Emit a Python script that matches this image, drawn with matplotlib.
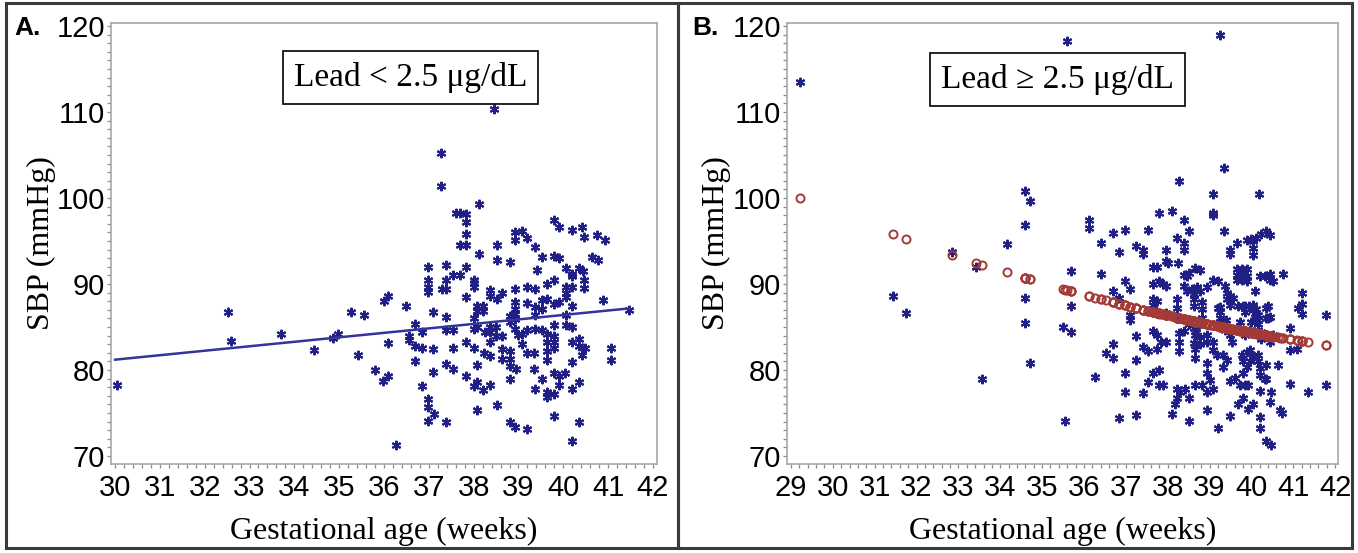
import matplotlib
matplotlib.use("Agg")
import matplotlib.pyplot as plt
import numpy as np
from matplotlib.patches import Rectangle
from matplotlib.ticker import MultipleLocator

# ---- Panel A: lead < 2.5 ug/dL (gestational age, SBP) ----
a_ga = [30.04, 32.53, 32.59, 33.70, 34.43, 34.86, 34.98, 35.27, 35.43, 35.55,
        35.80, 35.98, 36.00, 36.10, 36.10, 36.10, 36.27, 36.50, 36.55, 36.55,
        36.70, 36.70, 36.70, 36.84, 36.84, 36.84, 36.98, 36.98, 36.98, 36.98,
        36.98, 36.98, 36.98, 37.10, 37.10, 37.10, 37.12, 37.27, 37.27, 37.30,
        37.39, 37.39, 37.39, 37.39, 37.39, 37.39, 37.39, 37.55, 37.55, 37.55,
        37.55, 37.60, 37.70, 37.70, 37.70, 37.84, 37.84, 37.84, 37.84, 37.84,
        37.84, 37.84, 37.84, 38.00, 38.00, 38.00, 38.00, 38.00, 38.00, 38.00,
        38.45,
        38.11, 38.11, 38.07, 38.07, 38.07, 38.07, 38.07, 38.07, 38.20, 38.20,
        38.22, 38.20, 38.25, 38.36, 38.36, 38.36, 38.36, 38.36, 38.36, 38.36,
        38.50, 38.50, 38.52, 38.52, 38.52, 38.52, 38.64, 38.64, 38.64, 38.64,
        38.80, 38.80, 38.80, 38.80, 38.80, 38.80, 38.80, 38.80, 38.93, 38.93,
        38.93, 38.93, 38.93, 38.93, 38.93, 38.93, 38.93, 38.95, 39.00, 39.08,
        39.08, 39.08, 39.20, 39.20, 39.20, 39.20, 39.20, 39.20, 39.35, 39.35,
        39.36, 39.36, 39.36, 39.36, 39.36, 39.37, 39.42, 39.52, 39.52, 39.52,
        39.52, 39.52, 39.64, 39.64, 39.64, 39.64, 39.64, 39.64, 39.64, 39.64,
        39.79, 39.79, 39.79, 39.79, 39.79, 39.79, 39.79, 39.79, 39.79, 39.79,
        39.79, 39.91, 39.91, 39.91, 39.91, 39.91, 40.04, 40.07, 40.07, 40.07,
        40.07, 40.07, 40.07, 40.19, 40.19, 40.19, 40.19, 40.19, 40.19, 40.19,
        40.19, 40.19, 40.19, 40.36, 40.36, 40.36, 40.36, 40.36, 40.41, 40.41,
        40.45, 40.47, 40.47, 40.47, 40.48, 40.65, 40.76, 40.78, 40.88, 40.92,
        41.07, 41.07, 41.47]
a_sbp = [78.3, 86.8, 83.4, 84.2, 82.3, 83.7, 84.2, 86.8, 81.7, 86.4,
         80.0, 78.7, 88.0, 88.6, 83.1, 79.3, 71.3, 87.4, 83.9, 83.5,
         85.4, 82.8, 81.1, 84.4, 82.6, 78.1, 92.0, 90.5, 89.6, 89.1,
         76.6, 75.7, 74.1, 86.8, 82.4, 79.8, 74.9, 105.2, 101.4, 89.4,
         92.2, 90.5, 89.4, 86.2, 84.6, 80.7, 73.9, 91.0, 84.6, 82.6,
         80.1, 98.2, 98.2, 91.0, 94.5, 98.1, 97.2, 95.8, 94.5, 92.0,
         88.5, 83.3, 79.3, 90.5, 90.1, 89.7, 86.1, 84.8, 82.6, 78.1,
         110.3,
         99.3, 93.5, 87.5, 86.9, 85.0, 80.6, 78.6, 75.4, 87.5, 86.9,
         82.0, 77.7, 84.4, 89.3, 88.6, 85.0, 84.4, 83.2, 81.6, 78.3,
         85.0, 84.0, 94.5, 92.8, 88.2, 75.9, 89.0, 84.0, 82.4, 81.3,
         92.6, 86.3, 85.6, 82.2, 81.3, 80.5, 78.9, 74.0, 96.0, 95.1,
         89.4, 87.9, 87.1, 86.5, 85.9, 84.8, 73.4, 80.1, 84.1, 96.2,
         84.2, 83.0, 95.3, 89.7, 87.8, 84.6, 82.0, 73.1, 82.0, 80.1,
         94.3, 89.4, 87.3, 86.4, 84.8, 77.8, 91.6, 93.1, 88.1, 87.1,
         84.6, 79.0, 90.0, 88.3, 84.2, 83.2, 82.2, 81.2, 77.5, 76.9,
         97.5, 93.3, 90.5, 87.7, 85.2, 84.0, 83.2, 82.6, 79.6, 77.2,
         74.6, 96.6, 93.0, 87.9, 79.3, 78.3, 79.7, 91.9, 89.7, 88.9,
         88.5, 86.4, 85.2, 96.3, 91.2, 90.9, 89.7, 87.5, 85.0, 83.2,
         80.9, 77.8, 71.8, 91.9, 83.6, 82.8, 78.6, 74.0, 96.6, 81.8,
         91.5, 95.5, 90.5, 89.5, 82.6, 93.1, 95.7, 92.8, 88.1, 95.1,
         82.6, 81.2, 87.0]
# linear fit for panel A: intercept, slope
a_fit = [65.6, 0.52]

# ---- Panel B: lead >= 2.5 ug/dL ----
b_ga = [29.22, 31.44, 31.74, 32.85, 33.43, 33.57,
        34.16, 34.58, 34.70, 34.58, 34.58, 34.58, 34.70, 35.49, 35.55, 35.60,
        35.69, 35.69, 35.69, 36.12, 36.12, 36.26, 36.40, 36.40, 36.52, 36.70,
        36.70, 36.70, 36.70, 36.84, 36.84, 36.84, 36.97, 36.97, 36.97, 36.97,
        37.10, 37.10, 37.10, 37.24, 37.24, 37.24, 37.24, 37.40, 37.40, 37.42,
        37.42, 37.54, 37.54, 37.54, 37.66, 37.75, 37.66, 37.79, 37.90, 37.66,
        37.75, 37.66, 37.66, 37.75, 37.83, 37.75, 37.66, 37.79, 37.79, 37.90,
        37.80, 37.95, 37.95, 37.95, 37.95, 37.95, 38.00, 38.11, 38.11,
        38.26, 39.35, 39.26, 39.09, 39.09, 39.09, 40.19, 38.38, 38.50, 39.35,
        38.22, 38.38, 38.38, 40.36, 40.44, 40.22, 40.11, 39.98, 39.90, 39.65,
        39.49, 39.49, 40.04, 40.04, 40.04, 38.24, 38.38, 38.46, 38.50, 38.66,
        38.77, 39.09, 39.21, 39.65, 39.77, 39.89, 39.65, 39.77, 39.89, 39.65,
        39.77, 39.89, 40.20, 40.32, 40.44, 40.44, 40.52, 40.76, 40.08, 39.37,
        38.38, 38.46, 38.58, 38.70, 38.62, 38.77, 38.93, 38.22, 38.22, 38.62,
        38.62, 39.21, 39.41, 39.49, 39.49, 39.41, 39.57, 39.69, 39.81, 40.04,
        40.04, 40.16, 40.36, 40.44, 41.20, 41.20, 41.20, 41.12, 41.78, 40.92,
        40.92, 41.08, 41.78, 41.35, 40.92, 40.64, 38.26, 38.26, 38.38, 38.26,
        38.26, 38.50, 38.62, 38.66, 38.74, 38.62, 38.66, 38.77, 38.66, 38.93,
        38.93, 39.09, 39.09, 39.29, 39.37, 39.49, 39.53, 39.73, 39.85, 39.97,
        40.08, 40.16, 40.16, 39.17, 39.33, 39.41, 39.33, 38.93, 38.93, 39.01,
        39.77, 39.89, 39.97, 39.81, 39.89, 39.97, 39.81, 40.04, 40.16, 40.16,
        40.20, 39.49, 39.61, 39.73, 39.85, 39.93, 40.20, 40.32, 40.48, 40.44,
        40.20, 39.81, 39.69, 40.04, 39.93, 39.49, 40.20, 40.20, 40.68, 40.74,
        40.36, 40.46, 39.21, 38.93, 38.50, 38.22, 38.30, 38.42, 38.50, 38.22,
        38.18, 38.66, 38.81, 38.93, 39.09, 40.36, 40.52, 40.44, 40.36, 40.36,
        39.85, 39.95, 39.85, 39.72, 39.25, 39.25, 39.25, 39.39, 38.82, 38.82,
        38.82, 38.68, 38.77, 40.10, 40.10, 40.00, 40.24, 40.24, 40.40, 40.40]
b_sbp = [113.5, 88.65, 86.65, 93.7, 92.0, 79.0,
         94.7, 100.8, 99.6, 96.9, 88.4, 85.5, 80.8, 85.0, 74.1, 118.2,
         91.5, 87.5, 84.4, 97.4, 96.5, 79.2, 94.8, 91.2, 82.0, 95.9,
         89.2, 83.0, 81.4, 93.7, 88.4, 74.4, 96.3, 90.4, 79.6, 77.4,
         89.4, 86.4, 85.8, 94.4, 83.9, 81.2, 74.8, 94.0, 93.5, 82.7,
         77.3, 96.3, 82.2, 78.6, 92.0, 92.0, 90.0, 90.3, 90.0, 88.2,
         88.0, 87.6, 84.5, 84.1, 83.3, 82.5, 79.7, 80.0, 78.2, 78.2,
         98.3, 93.9, 92.7, 89.8, 86.6, 83.3, 92.5, 98.5, 74.9,
         102.0, 103.5, 119.0, 100.5, 98.3, 98.0, 100.5, 97.4, 96.2, 96.2,
         95.4, 94.8, 94.0, 96.2, 95.7, 95.8, 95.4, 95.2, 95.1, 94.8,
         94.0, 93.5, 95.0, 94.2, 93.4, 92.5, 91.1, 90.9, 91.3, 91.9,
         91.6, 90.5, 90.4, 91.7, 91.7, 91.7, 91.1, 91.1, 90.9, 90.5,
         90.5, 90.4, 90.9, 90.9, 91.2, 90.5, 90.4, 91.2, 89.2, 89.8,
         89.8, 89.2, 89.4, 89.6, 88.8, 89.2, 89.6, 88.2, 87.2, 88.2,
         87.4, 87.2, 89.0, 88.6, 87.6, 88.2, 88.4, 87.4, 87.4, 87.6,
         87.0, 86.4, 87.2, 86.2, 88.9, 87.7, 86.5, 87.2, 86.4, 84.9,
         82.3, 82.5, 78.3, 77.4, 78.4, 80.6, 86.0, 84.3, 84.5, 83.3,
         82.2, 85.3, 84.9, 84.1, 85.3, 83.1, 82.5, 83.0, 81.4, 84.1,
         83.3, 83.3, 82.3, 85.3, 84.7, 84.1, 83.3, 84.7, 84.1, 84.7,
         86.2, 85.8, 85.3, 81.7, 81.7, 81.2, 80.4, 80.8, 79.6, 78.8,
         81.7, 82.1, 82.3, 81.0, 80.4, 81.0, 79.6, 81.5, 81.7, 81.0,
         80.2, 78.7, 79.1, 78.3, 78.3, 78.3, 79.4, 79.0, 77.4, 76.3,
         77.6, 76.7, 76.1, 76.1, 75.5, 74.7, 74.5, 73.3, 75.3, 75.0,
         71.7, 71.3, 73.2, 75.3, 74.1, 77.8, 77.4, 77.8, 76.7, 76.7,
         76.1, 78.3, 78.3, 77.4, 77.8, 86.1, 84.1, 83.3, 80.6, 79.0,
         87.5, 87.5, 86.7, 85.6, 87.3, 86.7, 86.0, 85.8, 87.9, 87.1,
         86.0, 84.4, 83.85, 87.1, 86.35, 85.6, 84.4, 83.65, 87.5, 86.0]
# quadratic fit for panel B, centred at 36 weeks: const, linear, square
b_fit_center = 36.0
b_fit = [88.76, -1.311, 0.0516]

panel_letters = ["A.", "B."]
panel_notes = ["Lead < 2.5 \u03bcg/dL", "Lead \u2265 2.5 \u03bcg/dL"]
x_label = "Gestational age (weeks)"
y_label = "SBP (mmHg)"

W, H = 1358, 553
STAR = "#1f1f86"
LINE = "#34349a"
CIRC = "#a33a36"
SERIF = ["Liberation Serif", "DejaVu Serif"]
SANS = ["Liberation Sans", "DejaVu Sans"]


def style_axes(ax, xlim, xticks):
    '''SAS-like gray frame with minor ticks'''
    ax.set_xlim(*xlim)
    ax.set_ylim(69.07, 120.35)
    ax.set_xticks(xticks)
    ax.set_yticks([70, 80, 90, 100, 110, 120])
    ax.xaxis.set_minor_locator(MultipleLocator(0.2))
    ax.yaxis.set_minor_locator(MultipleLocator(1))
    for s in ax.spines.values():
        s.set_color("#a8a8a8")
        s.set_linewidth(1.2)
    ax.tick_params(which="both", direction="out", color="#8c8c8c",
                   width=0.9, labelsize=21)
    ax.tick_params(which="major", length=3.2)
    ax.tick_params(which="minor", length=2.6)
    ax.tick_params(axis="x", pad=4)
    ax.tick_params(axis="y", pad=1)
    for lab in ax.get_xticklabels() + ax.get_yticklabels():
        lab.set_family(SANS)
    ax.set_xlabel(x_label, family=SERIF, fontsize=23, va="center")
    ax.xaxis.set_label_coords(0.5, -0.152)
    ax.set_ylabel(y_label, family=SERIF, fontsize=23, va="center")
    ax.yaxis.set_label_coords(-0.128, 0.5)


def main():
    fig = plt.figure(figsize=(W / 100, H / 100), dpi=100)

    # outer panel borders
    for x0, x1 in [(6, 678), (678, 1352)]:
        fig.add_artist(Rectangle((x0 / W, 5 / H), (x1 - x0) / W, 545 / H,
                                 transform=fig.transFigure, fill=False,
                                 ec="#3a3a3a", lw=2.2))

    ax_a = fig.add_axes([111 / W, (H - 464) / H, 546 / W, 441 / H])
    ax_b = fig.add_axes([787 / W, (H - 464) / H, 551 / W, 441 / H])

    # panel A
    xa = np.array(a_ga)
    ya = np.array(a_sbp)
    ax_a.plot(xa, ya, ls="none", marker=(6, 2, 0), ms=6.8, mew=1.5,
              color=STAR, zorder=3)
    xl = np.array([30.0, xa.max()])
    ax_a.plot(xl, a_fit[0] + a_fit[1] * xl, color=LINE, lw=1.8, zorder=4)
    style_axes(ax_a, (29.91, 42.09), range(30, 43))

    # panel B
    xb = np.array(b_ga)
    yb = np.array(b_sbp)
    ax_b.plot(xb, yb, ls="none", marker=(6, 2, 0), ms=6.8, mew=1.5,
              color=STAR, zorder=3)
    u = xb - b_fit_center
    pred = b_fit[0] + b_fit[1] * u + b_fit[2] * u ** 2
    ax_b.plot(xb, pred, ls="none", marker="o", ms=5.8, mew=1.4,
              mfc="none", mec=CIRC, zorder=4)
    style_axes(ax_b, (28.905, 42.07), range(29, 43))

    # boxed notes
    for ax, note, pos in [(ax_a, panel_notes[0], (0.548, 0.876)),
                          (ax_b, panel_notes[1], (0.491, 0.871))]:
        ax.text(pos[0], pos[1], note, transform=ax.transAxes, ha="center",
                va="center", family=SERIF, fontsize=24, zorder=6,
                bbox=dict(boxstyle="square,pad=0.33", fc="white",
                          ec="black", lw=1.2))

    # panel letters
    for x, letter in [(14, panel_letters[0]), (692, panel_letters[1])]:
        fig.text(x / W, (H - 28) / H, letter, ha="left", va="center",
                 family=SANS, fontsize=19, fontweight="bold")

    fig.savefig("out.png", dpi=100)


if __name__ == "__main__":
    main()
